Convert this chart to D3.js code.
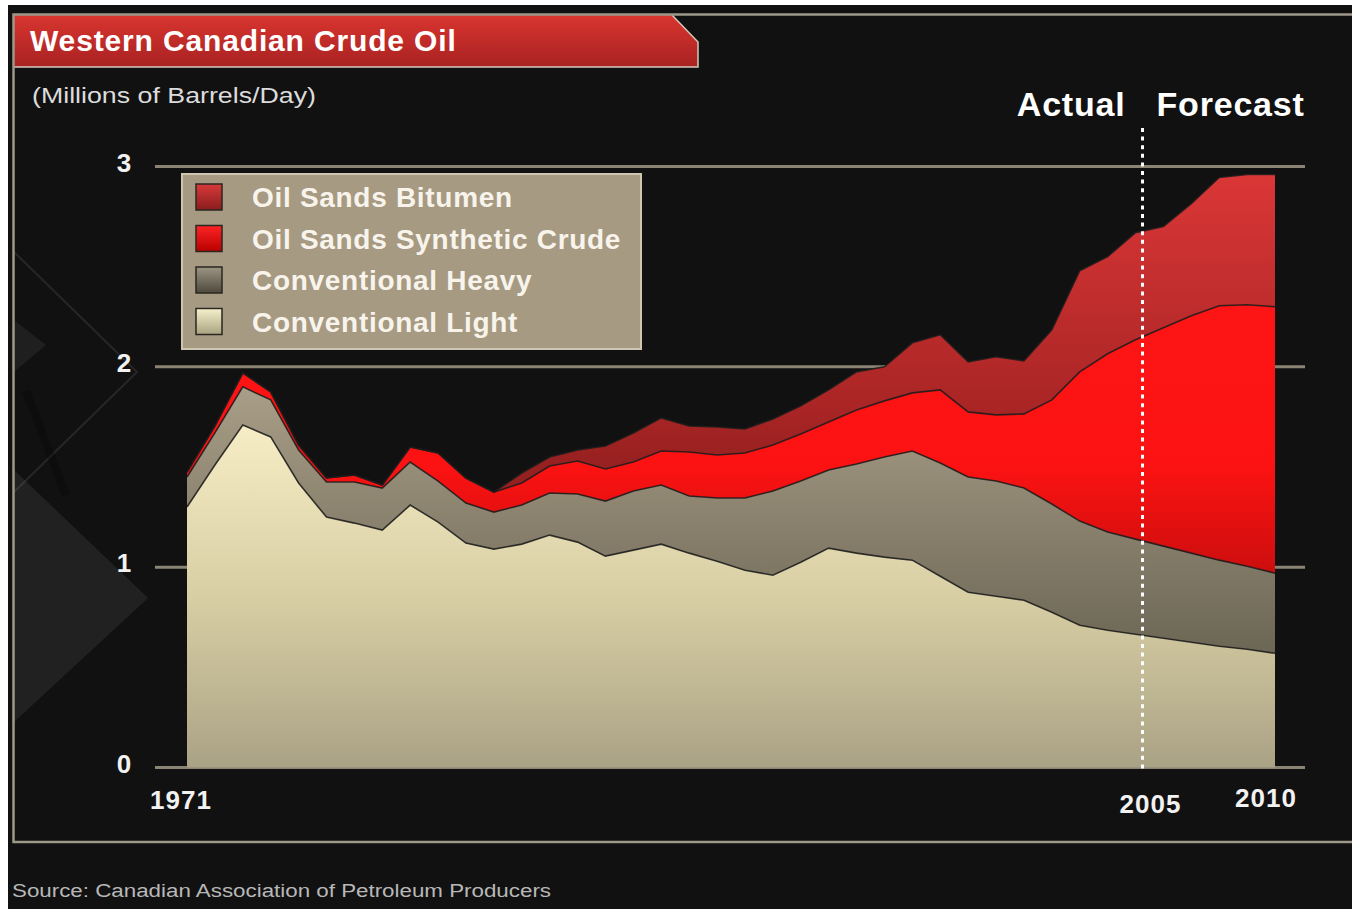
<!DOCTYPE html>
<html>
<head>
<meta charset="utf-8">
<script src="https://cdn.jsdelivr.net/npm/d3@7"></script>
<style>
  html, body { margin: 0; padding: 0; background: #ffffff; }
  svg { display: block; }
</style>
</head>
<body>
<svg id="chart" width="1352" height="909"></svg>
<script>
// Western Canadian crude oil supply, millions of barrels per day
const years = [1971, 1972, 1973, 1974, 1975, 1976, 1977, 1978, 1979, 1980,
               1981, 1982, 1983, 1984, 1985, 1986, 1987, 1988, 1989, 1990,
               1991, 1992, 1993, 1994, 1995, 1996, 1997, 1998, 1999, 2000,
               2001, 2002, 2003, 2004, 2005, 2006, 2007, 2008, 2009, 2010];

const conventionalLight = [1.30, 1.51, 1.71, 1.65, 1.42, 1.25, 1.22, 1.185, 1.31, 1.225,
                           1.12, 1.09, 1.115, 1.16, 1.125, 1.055, 1.085, 1.115, 1.07, 1.03,
                           0.985, 0.96, 1.025, 1.095, 1.07, 1.05, 1.035, 0.955, 0.875, 0.855,
                           0.835, 0.775, 0.71, 0.685, 0.665, 0.645, 0.625, 0.605, 0.59, 0.57];

const conventionalHeavy = [0.15, 0.16, 0.19, 0.185, 0.165, 0.175, 0.205, 0.21, 0.215, 0.205,
                           0.20, 0.185, 0.195, 0.21, 0.24, 0.275, 0.295, 0.295, 0.285, 0.315,
                           0.36, 0.42, 0.405, 0.39, 0.445, 0.50, 0.545, 0.565, 0.575, 0.575,
                           0.56, 0.54, 0.52, 0.49, 0.475, 0.46, 0.445, 0.43, 0.415, 0.40];

const syntheticCrude = [0.025, 0.035, 0.07, 0.04, 0.025, 0.02, 0.035, 0.015, 0.075, 0.14,
                        0.125, 0.10, 0.11, 0.135, 0.165, 0.16, 0.145, 0.17, 0.22, 0.215,
                        0.225, 0.23, 0.235, 0.24, 0.27, 0.28, 0.29, 0.365, 0.325, 0.33,
                        0.37, 0.52, 0.745, 0.89, 0.995, 1.09, 1.185, 1.27, 1.305, 1.33];

const bitumen = [0, 0, 0, 0, 0, 0, 0, 0, 0, 0,
                 0, 0, 0.05, 0.045, 0.055, 0.115, 0.145, 0.165, 0.13, 0.14,
                 0.12, 0.13, 0.14, 0.16, 0.19, 0.17, 0.25, 0.275, 0.25, 0.29,
                 0.265, 0.35, 0.505, 0.485, 0.535, 0.505, 0.56, 0.64, 0.65, 0.66];

const legendLabels = ["Oil Sands Bitumen", "Oil Sands Synthetic Crude", "Conventional Heavy", "Conventional Light"];
const yTickValues = [0, 1, 2, 3];
const xTickYears = [1971, 2005, 2010];
const forecastStartYear = 2005;

const svg = d3.select("#chart");
const W = 1352, H = 909;
const FONT = "Liberation Sans, Arial, sans-serif";

// ---------- gradients ----------
const defs = svg.append("defs");
function userGradient(id, stops) {
  const g = defs.append("linearGradient").attr("id", id)
    .attr("gradientUnits", "userSpaceOnUse")
    .attr("x1", 0).attr("x2", 0).attr("y1", 166).attr("y2", 767);
  stops.forEach(([o, c]) => g.append("stop").attr("offset", o).attr("stop-color", c));
}
function boxGradient(id, stops) {
  const g = defs.append("linearGradient").attr("id", id)
    .attr("x1", 0).attr("x2", 0).attr("y1", 0).attr("y2", 1);
  stops.forEach(([o, c]) => g.append("stop").attr("offset", o).attr("stop-color", c));
}
userGradient("gLight", [[0, "#fcf4ce"], [0.42, "#f7eec7"], [0.72, "#d8cea4"], [1, "#aaa285"]]);
userGradient("gHeavy", [[0, "#b0a58e"], [0.36, "#aa9f88"], [0.8, "#6d6756"], [1, "#5e594b"]]);
userGradient("gSynth", [[0, "#ff1616"], [0.5, "#fc1212"], [0.68, "#cc0e0e"], [1, "#a00a0a"]]);
userGradient("gBit", [[0, "#dc3737"], [0.4, "#aa2525"], [0.5, "#972020"], [1, "#801a1a"]]);
boxGradient("sBit", [[0, "#d83a3a"], [1, "#8a1c1c"]]);
boxGradient("sSynth", [[0, "#ff2424"], [1, "#b80000"]]);
boxGradient("sHeavy", [[0, "#9d9582"], [1, "#4e493e"]]);
boxGradient("sLight", [[0, "#f6f1cc"], [1, "#a9a280"]]);
boxGradient("gBanner", [[0, "#d9352f"], [1, "#a82222"]]);

// ---------- background panel ----------
svg.append("rect").attr("x", 8).attr("y", 5).attr("width", W - 8).attr("height", H - 5).attr("fill", "#111111");

// faint decorative facets on the left side
const deco = svg.append("g");
deco.append("polygon").attr("points", "14,470 148,598 14,722").attr("fill", "#ffffff").attr("opacity", 0.07);
deco.append("polygon").attr("points", "14,320 46,345 14,372").attr("fill", "#ffffff").attr("opacity", 0.06);
deco.append("polyline").attr("points", "14,252 137,372 14,492").attr("fill", "none")
  .attr("stroke", "#ffffff").attr("stroke-opacity", 0.09).attr("stroke-width", 2);
deco.append("polygon").attr("points", "22,392 30,390 70,494 62,496").attr("fill", "#000000").attr("opacity", 0.22);

// ---------- scales ----------
const x = d3.scaleLinear().domain([years[0], years[years.length - 1]]).range([187, 1275]);
const y = d3.scaleLinear().domain([0, 3]).range([767.5, 166.5]);

// gridlines
svg.append("g").selectAll("line").data(yTickValues).join("line")
  .attr("x1", 155).attr("x2", 1305)
  .attr("y1", d => y(d)).attr("y2", d => y(d))
  .attr("stroke", "#8a8474").attr("stroke-width", 3);

// ---------- stacked areas ----------
const rows = years.map((yr, i) => ({
  year: yr,
  light: conventionalLight[i],
  heavy: conventionalHeavy[i],
  synth: syntheticCrude[i],
  bit: bitumen[i]
}));
const keys = ["light", "heavy", "synth", "bit"];
const fills = { light: "url(#gLight)", heavy: "url(#gHeavy)", synth: "url(#gSynth)", bit: "url(#gBit)" };
const stacked = d3.stack().keys(keys)(rows);

const area = d3.area()
  .x(d => x(d.data.year))
  .y0(d => y(d[0]))
  .y1(d => y(d[1]));
const topLine = d3.line()
  .x(d => x(d.data.year))
  .y(d => y(d[1]));

const layers = svg.append("g");
stacked.forEach(s => {
  layers.append("path").attr("d", area(s)).attr("fill", fills[s.key]);
});
stacked.forEach(s => {
  layers.append("path").attr("d", topLine(s)).attr("fill", "none")
    .attr("stroke", "#1c1c1c").attr("stroke-width", 1.6).attr("stroke-opacity", 0.85);
});

// ---------- actual / forecast divider ----------
const xDivider = x(forecastStartYear) + 7;
svg.append("line")
  .attr("x1", xDivider).attr("x2", xDivider)
  .attr("y1", 128).attr("y2", 771)
  .attr("stroke", "#ffffff").attr("stroke-width", 3).attr("stroke-dasharray", "4,4.6");

svg.append("text").attr("x", xDivider - 17).attr("y", 116)
  .attr("text-anchor", "end").attr("font-family", FONT)
  .attr("font-weight", "bold").attr("font-size", 34).attr("letter-spacing", 0.8)
  .attr("fill", "#ffffff").text("Actual");
svg.append("text").attr("x", xDivider + 14).attr("y", 116)
  .attr("text-anchor", "start").attr("font-family", FONT)
  .attr("font-weight", "bold").attr("font-size", 34).attr("letter-spacing", 0.8)
  .attr("fill", "#ffffff").text("Forecast");

// ---------- axis labels ----------
svg.append("g").selectAll("text").data(yTickValues).join("text")
  .attr("x", 124).attr("y", d => y(d) + 5)
  .attr("text-anchor", "middle").attr("font-family", FONT)
  .attr("font-weight", "bold").attr("font-size", 26).attr("fill", "#f2f2f2")
  .text(d => d);

// year labels sit slightly off their tick: the first and last are pulled inward,
// the forecast year is centred just right of the divider
const yearLabelShift = { 1971: -6, 2005: 15, 2010: -9 };
const yearLabelDrop = { 1971: 0, 2005: 4, 2010: -2 };
svg.append("g").selectAll("text").data(xTickYears).join("text")
  .attr("x", d => x(d) + (yearLabelShift[d] || 0))
  .attr("y", d => 809 + (yearLabelDrop[d] || 0))
  .attr("text-anchor", "middle").attr("font-family", FONT)
  .attr("font-weight", "bold").attr("font-size", 26).attr("letter-spacing", 1)
  .attr("fill", "#f2f2f2")
  .text(d => d);

// ---------- legend ----------
const legend = svg.append("g");
legend.append("rect").attr("x", 182).attr("y", 174).attr("width", 459).attr("height", 175)
  .attr("fill", "#a69a82").attr("stroke", "#cfc6b1").attr("stroke-width", 2);
const swatchFills = ["url(#sBit)", "url(#sSynth)", "url(#sHeavy)", "url(#sLight)"];
const legendRows = legend.selectAll("g").data(legendLabels).join("g")
  .attr("transform", (d, i) => `translate(196, ${197 + i * 41.5})`);
legendRows.append("rect").attr("x", 0).attr("y", -13).attr("width", 26).attr("height", 26)
  .attr("fill", (d, i) => swatchFills[i]).attr("stroke", "#2a2622").attr("stroke-width", 1.5);
legendRows.append("text").attr("x", 56).attr("y", 10)
  .attr("font-family", FONT).attr("font-weight", "bold")
  .attr("font-size", 28).attr("letter-spacing", 0.7).attr("fill", "#f8f4ec")
  .text(d => d);

// ---------- frame and title banner ----------
svg.append("polygon").attr("points", "14,15 672,15 698,42 698,67 14,67").attr("fill", "url(#gBanner)");
svg.append("polyline").attr("points", "672,15 698,42 698,67 14,67").attr("fill", "none")
  .attr("stroke", "#d2cabb").attr("stroke-width", 1.5);
svg.append("path").attr("d", `M${W},14.5 H13.5 V842 H${W}`).attr("fill", "none")
  .attr("stroke", "#9e9889").attr("stroke-width", 2.5);

svg.append("text").attr("x", 30).attr("y", 51)
  .attr("font-family", FONT).attr("font-weight", "bold")
  .attr("font-size", 30).attr("letter-spacing", 0.85).attr("fill", "#ffffff")
  .text("Western Canadian Crude Oil");

svg.append("text").attr("x", 32).attr("y", 103)
  .attr("font-family", FONT)
  .attr("font-size", 22).attr("fill", "#dcdcdc")
  .attr("textLength", 284).attr("lengthAdjust", "spacingAndGlyphs")
  .text("(Millions of Barrels/Day)");

svg.append("text").attr("x", 12).attr("y", 897)
  .attr("font-family", FONT)
  .attr("font-size", 18).attr("fill", "#b8b8b8")
  .attr("textLength", 539).attr("lengthAdjust", "spacingAndGlyphs")
  .text("Source: Canadian Association of Petroleum Producers");
</script>
</body>
</html>
